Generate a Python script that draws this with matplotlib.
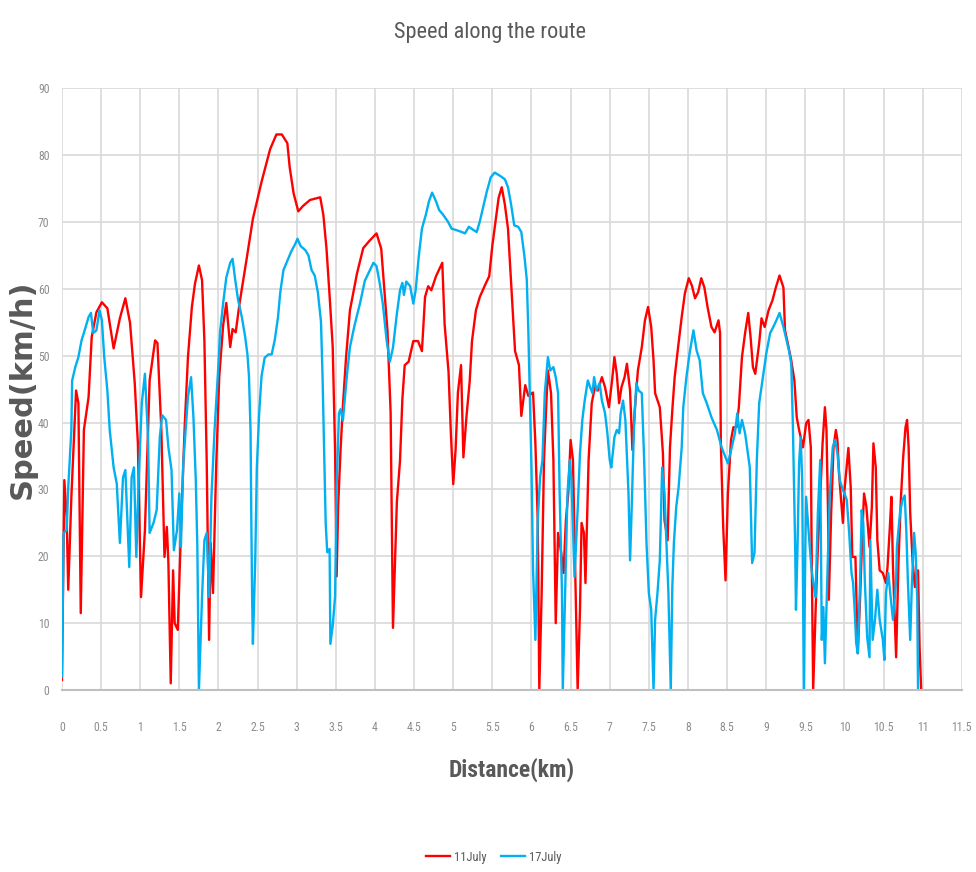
import matplotlib
matplotlib.use("Agg")
from matplotlib import pyplot as plt
from matplotlib import font_manager

# 11 July run (red)
red_km = [0.00, 0.03, 0.06, 0.08, 0.12, 0.18, 0.21, 0.24, 0.28, 0.34, 0.38, 0.44, 0.51, 0.58, 0.66, 0.74,
          0.81, 0.87, 0.93, 0.97, 1.01, 1.06, 1.12, 1.19, 1.22, 1.27, 1.31, 1.34, 1.36, 1.39, 1.42, 1.44,
          1.48, 1.53, 1.57, 1.61, 1.66, 1.70, 1.75, 1.79, 1.82, 1.85, 1.88, 1.90, 1.93, 1.97, 2.01, 2.06,
          2.10, 2.15, 2.18, 2.22, 2.27, 2.36, 2.44, 2.55, 2.66, 2.74, 2.81, 2.88, 2.91, 2.96, 3.02, 3.08,
          3.17, 3.30, 3.34, 3.38, 3.42, 3.46, 3.49, 3.51, 3.53, 3.56, 3.59, 3.63, 3.68, 3.77, 3.85, 3.93,
          4.02, 4.08, 4.12, 4.16, 4.20, 4.23, 4.28, 4.32, 4.35, 4.38, 4.43, 4.49, 4.55, 4.60, 4.64, 4.68,
          4.72, 4.78, 4.82, 4.86, 4.89, 4.94, 4.97, 5.00, 5.03, 5.06, 5.10, 5.13, 5.17, 5.21, 5.24, 5.29,
          5.34, 5.40, 5.46, 5.50, 5.54, 5.58, 5.62, 5.66, 5.70, 5.75, 5.79, 5.84, 5.87, 5.92, 5.96, 6.02,
          6.05, 6.08, 6.10, 6.13, 6.16, 6.19, 6.21, 6.25, 6.28, 6.31, 6.34, 6.38, 6.41, 6.44, 6.47, 6.50,
          6.53, 6.56, 6.59, 6.62, 6.64, 6.67, 6.69, 6.73, 6.77, 6.81, 6.85, 6.90, 6.94, 6.99, 7.03, 7.06,
          7.09, 7.12, 7.15, 7.19, 7.22, 7.26, 7.29, 7.32, 7.36, 7.41, 7.45, 7.49, 7.53, 7.56, 7.58, 7.64,
          7.68, 7.70, 7.74, 7.77, 7.80, 7.83, 7.88, 7.92, 7.96, 8.01, 8.05, 8.09, 8.13, 8.17, 8.21, 8.25,
          8.30, 8.34, 8.39, 8.41, 8.42, 8.45, 8.48, 8.51, 8.55, 8.58, 8.62, 8.65, 8.69, 8.73, 8.77, 8.80,
          8.83, 8.86, 8.91, 8.94, 8.98, 9.03, 9.08, 9.12, 9.17, 9.22, 9.24, 9.28, 9.32, 9.36, 9.39, 9.42,
          9.47, 9.51, 9.54, 9.57, 9.58, 9.60, 9.63, 9.66, 9.69, 9.72, 9.75, 9.77, 9.79, 9.80, 9.83, 9.86,
          9.89, 9.91, 9.93, 9.98, 10.00, 10.05, 10.08, 10.10, 10.14, 10.17, 10.20, 10.23, 10.25, 10.28,
          10.32, 10.35, 10.37, 10.40, 10.42, 10.45, 10.49, 10.53, 10.55, 10.58, 10.60, 10.62, 10.66, 10.69,
          10.72, 10.75, 10.78, 10.80, 10.82, 10.84, 10.87, 10.90, 10.92, 10.94, 10.96, 10.98]
red_speed = [1.5, 31.4, 25.9, 15, 28.9, 44.8, 42.9, 11.5, 38.9, 43.8, 52.8, 56.5, 58, 57.1, 51.1, 55.6,
             58.6, 54.9, 45.9, 36.9, 13.9, 23.9, 46.3, 52.3, 51.9, 38.9, 19.9, 24.4, 19, 1, 17.9, 10,
             9, 27.4, 39.9, 49.8, 57.3, 60.8, 63.5, 61.3, 52.3, 33.9, 7.5, 22, 14.5, 33.2, 46.9, 54.6,
             57.9, 51.3, 54.0, 53.5, 57.9, 64.5, 70.5, 76.0, 80.9, 83.1, 83.1, 81.8, 78.2, 74.3, 71.6, 72.4,
             73.3, 73.7, 71.1, 66.1, 59.0, 51.3, 35.9, 17, 27.7, 35.9, 42.5, 49.7, 56.8, 62.3, 66.1, 67.2,
             68.3, 66.0, 59.8, 53.7, 41.5, 9.3, 28.2, 34.3, 43.5, 48.6, 49.1, 52.2, 52.2, 50.7, 58.8, 60.4,
             59.8, 61.9, 62.9, 63.9, 54.7, 47.6, 38.4, 30.8, 35.9, 44.5, 48.6, 34.8, 41.0, 46.1, 52.2, 56.8,
             58.8, 60.4, 61.9, 66.5, 70.1, 73.6, 75.2, 72.6, 69.0, 58.8, 50.7, 48.6, 41.0, 45.6, 44.0, 44.5,
             36.9, 25.4, 0, 14.5, 34.4, 42.9, 47.8, 44.4, 34.4, 10, 23.5, 20.5, 17.5, 25.4, 29.4, 37.4,
             34.4, 16.9, 0, 12, 25, 23.5, 16, 34.4, 42.9, 45.3, 44.8, 46.8, 45.3, 42.3, 46.3, 49.8,
             47.3, 42.9, 45.3, 46.8, 48.8, 44.8, 35.9, 41.9, 47.8, 51.3, 55.3, 57.3, 54.3, 49.3, 44.4, 42.3,
             35.4, 25.4, 22.4, 36.3, 41.9, 46.8, 51.9, 55.8, 59.3, 61.6, 60.5, 58.6, 59.5, 61.6, 60.2, 57.3,
             54.3, 53.5, 55.3, 53.4, 36.9, 24.4, 16.4, 29.4, 37.4, 39.3, 39.3, 42.3, 49.8, 53.4, 56.4, 52.8,
             48.3, 47.3, 51.9, 55.6, 54.3, 56.8, 58.3, 60.1, 62, 60.2, 53.8, 51.6, 49.3, 46.3, 40.8, 38.9,
             36.3, 39.9, 40.4, 36.3, 21.4, 0, 11.5, 21.4, 28.9, 36.9, 42.3, 38.9, 26.5, 13.5, 26.5, 36.3,
             38.9, 37.4, 32.4, 25, 29.9, 36.2, 30.3, 19.9, 19.9, 5.5, 13.9, 23.9, 29.4, 27.4,
             21.4, 27.4, 36.9, 33.3, 22.4, 17.9, 17.5, 16, 18.4, 24.4, 28.9, 18.4, 4.9, 19,
             28.4, 34.8, 39.3, 40.4, 36.3, 26.5, 19.4, 15.4, 17.5, 17.9, 6.4, 0]

# 17 July run (blue)
blue_km = [0.00, 0.02, 0.06, 0.08, 0.12, 0.13, 0.17, 0.21, 0.25, 0.29, 0.34, 0.37, 0.40, 0.44, 0.48, 0.51,
           0.54, 0.58, 0.61, 0.66, 0.70, 0.74, 0.78, 0.81, 0.86, 0.89, 0.92, 0.95, 0.98, 1.02, 1.06, 1.10,
           1.12, 1.17, 1.21, 1.25, 1.28, 1.33, 1.36, 1.40, 1.43, 1.47, 1.50, 1.52, 1.55, 1.58, 1.61, 1.65,
           1.68, 1.71, 1.73, 1.75, 1.79, 1.82, 1.85, 1.88, 1.91, 1.95, 2.00, 2.02, 2.06, 2.10, 2.15, 2.18,
           2.21, 2.25, 2.30, 2.34, 2.37, 2.39, 2.41, 2.42, 2.43, 2.44, 2.47, 2.49, 2.52, 2.55, 2.59, 2.64,
           2.68, 2.72, 2.76, 2.79, 2.83, 2.88, 2.93, 2.98, 3.01, 3.05, 3.11, 3.15, 3.19, 3.23, 3.27, 3.31,
           3.33, 3.35, 3.37, 3.39, 3.42, 3.43, 3.46, 3.49, 3.51, 3.54, 3.56, 3.59, 3.64, 3.68, 3.74, 3.81,
           3.87, 3.98, 4.02, 4.06, 4.10, 4.15, 4.19, 4.23, 4.28, 4.32, 4.35, 4.37, 4.40, 4.45, 4.49, 4.52,
           4.56, 4.60, 4.65, 4.69, 4.73, 4.78, 4.82, 4.87, 4.93, 4.98, 5.04, 5.11, 5.15, 5.20, 5.26, 5.30,
           5.34, 5.38, 5.43, 5.48, 5.53, 5.60, 5.66, 5.70, 5.74, 5.78, 5.83, 5.87, 5.91, 5.94, 5.96, 5.98,
           6.00, 6.02, 6.05, 6.08, 6.11, 6.14, 6.17, 6.21, 6.24, 6.28, 6.31, 6.34, 6.36, 6.39, 6.40, 6.42,
           6.44, 6.46, 6.49, 6.51, 6.53, 6.55, 6.59, 6.62, 6.65, 6.68, 6.72, 6.75, 6.78, 6.80, 6.83, 6.87,
           6.90, 6.94, 6.97, 7.00, 7.02, 7.06, 7.09, 7.12, 7.14, 7.17, 7.20, 7.24, 7.26, 7.28, 7.31, 7.34,
           7.37, 7.41, 7.44, 7.47, 7.50, 7.53, 7.56, 7.58, 7.61, 7.64, 7.67, 7.70, 7.75, 7.78, 7.80, 7.82,
           7.85, 7.88, 7.92, 7.94, 7.98, 8.02, 8.07, 8.11, 8.15, 8.19, 8.24, 8.30, 8.37, 8.43, 8.51, 8.56,
           8.60, 8.63, 8.66, 8.69, 8.73, 8.76, 8.79, 8.82, 8.85, 8.88, 8.91, 8.94, 8.97, 9.00, 9.05, 9.09,
           9.13, 9.17, 9.22, 9.26, 9.29, 9.32, 9.34, 9.37, 9.38, 9.40, 9.42, 9.44, 9.46, 9.48, 9.50, 9.51,
           9.55, 9.58, 9.61, 9.63, 9.66, 9.69, 9.71, 9.73, 9.75, 9.78, 9.81, 9.85, 9.88, 9.91, 9.94, 9.98,
           10.00, 10.03, 10.06, 10.09, 10.11, 10.13, 10.15, 10.17, 10.20, 10.22, 10.24, 10.26, 10.29, 10.32,
           10.33, 10.36, 10.39, 10.42, 10.45, 10.49, 10.51, 10.53, 10.56, 10.59, 10.62, 10.66, 10.67, 10.71,
           10.74, 10.77, 10.79, 10.81, 10.84, 10.86, 10.89, 10.91, 10.93, 10.94]
blue_speed = [2, 23.5, 23.9, 30.3, 38.9, 46.3, 48.3, 49.8, 52.3, 53.8, 55.8, 56.4, 53.4, 53.8, 56.8, 55.3,
              49.8, 44.8, 38.9, 33.3, 30.9, 22, 31.8, 32.9, 18.4, 31.8, 33.3, 19.9, 31.4, 42.9, 47.3, 37.8,
              23.5, 25, 26.9, 37.8, 41.1, 40.4, 36.3, 32.9, 20.9, 23.9, 29.4, 21.4, 33.9, 38.9, 43.8, 46.8,
              40.8, 31.4, 21.4, 0, 13.9, 22.4, 23.5, 13.9, 28.9, 38.9, 48.8, 53.5, 57.9, 61.7, 63.9, 64.5,
              61.7, 58.4, 55.7, 52.9, 50.2, 46.9, 38.7, 25.0, 14.0, 6.9, 19.5, 33.2, 41.4, 46.9, 49.7, 50.2,
              50.2, 52.4, 55.7, 59.5, 62.8, 64.2, 65.6, 66.7, 67.5, 66.4, 65.8, 65.0, 62.8, 62.0, 59.5, 55.1,
              46.9, 35.9, 25.0, 20.6, 21.1, 6.9, 9.6, 14.0, 30.5, 41.4, 42.0, 40.3, 46.9, 51.3, 54.6, 57.9,
              61.2, 63.9, 63.4, 60.9, 57.8, 52.2, 49.1, 51.2, 56.3, 59.8, 60.9, 59.1, 61.1, 60.4, 57.8, 59.8,
              64.9, 69.0, 71.1, 73.1, 74.4, 73.1, 71.8, 71.1, 70.1, 69.0, 68.8, 68.5, 68.3, 69.3, 68.8, 68.5,
              70.1, 72.1, 74.6, 76.7, 77.4, 76.9, 76.4, 75.2, 72.6, 69.5, 69.3, 68.5, 64.9, 61.4, 53.7, 43.5,
              33.3, 18.0, 7.5, 25.4, 31.8, 34.4, 44.4, 49.8, 47.8, 48.3, 46.8, 44.4, 29.4, 14.5, 0, 9.4,
              19.4, 29.4, 34.4, 31.4, 24.4, 16.9, 26.9, 35.4, 40.4, 43.3, 46.3, 45.3, 44.4, 46.8, 44.8, 45.9,
              43.3, 41.4, 38.4, 34.4, 33.3, 37.8, 38.9, 38.4, 41.4, 43.3, 40.4, 29.4, 19.4, 26.9, 39.3, 45.9,
              44.8, 44.4, 34.4, 22, 14.5, 12, 0, 10.5, 14.5, 19.4, 33.3, 29.4, 14.5, 0, 15.4, 22,
              27.4, 30.3, 36.3, 42.3, 46.8, 50.3, 53.8, 50.8, 49.3, 44.4, 42.9, 40.8, 38.9, 36.3, 33.9, 36.3,
              38.4, 41.4, 38.4, 40.4, 38.4, 35.9, 33.3, 19, 20.5, 34.4, 42.9, 45.3, 47.8, 50.3, 53.4, 54.3,
              55.3, 56.4, 54.3, 52.3, 50.8, 48.8, 40.0, 21.4, 12, 21.4, 33.9, 37.8, 31.4, 0, 21.4, 28.9,
              22.4, 17.9, 15.4, 13.9, 26.5, 34.4, 7.5, 12.4, 4, 16.4, 28.9, 36.3, 37.4, 35.4, 31.4, 29.9,
              29.4, 28.4, 23.5, 17.5, 16, 12, 7, 5.5, 16.4, 26.9, 25, 16.4, 7.9, 4.9,
              22.4, 7.5, 10.5, 15, 10.5, 7.5, 4.5, 14.5, 17.5, 13.9, 10.5, 16.4, 21.4, 26.5,
              28.4, 29.1, 23.9, 16.4, 7.5, 15.4, 23.5, 20.5, 13.5, 0]

x_ticks = [i * 0.5 for i in range(24)]
y_ticks = list(range(0, 100, 10))

# pick a narrow face if one is around, else Liberation Sans (narrower than DejaVu)
have = {f.name for f in font_manager.fontManager.ttflist}
narrow = next((n for n in ["Liberation Sans Narrow", "Roboto Condensed", "Open Sans Condensed",
                           "Noto Sans Condensed"] if n in have), "Liberation Sans")

fig = plt.figure(figsize=(9.76, 8.72), dpi=100)
ax = fig.add_axes([0.0635, 0.2087, 0.922, 0.690])

ax.plot(red_km, red_speed, color="#FF0000", lw=1.7, label="11July")
ax.plot(blue_km, blue_speed, color="#00B0F0", lw=1.7, label="17July")

ax.set_xlim(0, 11.5)
ax.set_ylim(0, 90)
ax.set_xticks(x_ticks)
ax.set_xticklabels([f"{t:g}" for t in x_ticks], family=narrow)
ax.set_yticks(y_ticks)
ax.set_yticklabels([str(t) for t in y_ticks], family=narrow)
ax.grid(True, color="#D9D9D9", lw=1.2)
ax.set_axisbelow(True)
for s in ["top", "right", "left"]:
    ax.spines[s].set_visible(False)
ax.spines["bottom"].set_color("#BFBFBF")
ax.spines["bottom"].set_linewidth(1.5)
ax.tick_params(axis="both", length=0, labelsize=8.5, colors="#8C8C8C")
ax.tick_params(axis="x", pad=22)
ax.tick_params(axis="y", pad=9)

ax.set_title("Speed along the route", fontsize=16, color="#595959", pad=36, family=narrow, x=0.476)
ax.set_xlabel("Distance(km)", fontsize=17, fontweight="bold", color="#595959", family=narrow)
ax.xaxis.set_label_coords(0.5, -0.112)
ax.set_ylabel("Speed(km/h)", fontsize=22, fontweight="bold", color="#595959")
ax.yaxis.set_label_coords(-0.028, 0.5)

ax.legend(loc="center", bbox_to_anchor=(0.48, -0.278), ncol=2, frameon=False,
          prop={"family": narrow, "size": 9}, labelcolor="#595959",
          handlelength=1.9, handletextpad=0.3, columnspacing=1.2)

fig.savefig("out.png", dpi=100)
